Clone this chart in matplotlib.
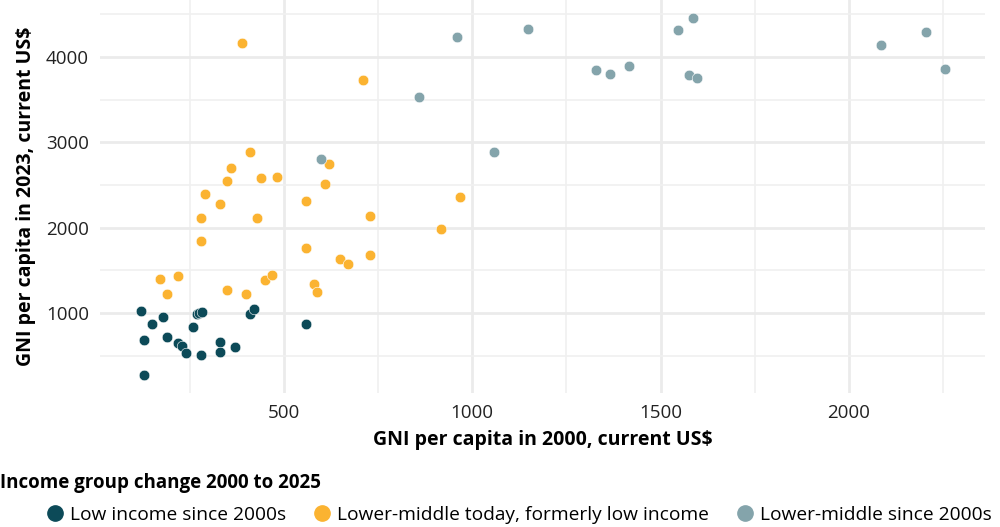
import matplotlib
matplotlib.use("Agg")
import matplotlib.pyplot as plt
from matplotlib.lines import Line2D
from matplotlib.ticker import MultipleLocator

plt.rcParams['font.family'] = ['Open Sans', 'DejaVu Sans']

# GNI per capita, 2000 (x) and 2023 (y), current US$
low_x = [120, 150, 180, 130, 190, 219, 230, 240, 130, 260, 270, 276, 282,
         280, 330, 330, 369, 410, 420, 559]
low_y = [1028, 872, 957, 681, 716, 645, 618, 528, 278, 837, 985, 1005, 1015,
         509, 657, 540, 602, 989, 1051, 872]

former_x = [410, 361, 350, 439, 481, 619, 610, 290, 330, 280, 430, 559, 728,
            967, 917, 280, 559, 649, 669, 728, 170, 220, 190, 350, 399, 449,
            469, 579, 589, 388, 710]
former_y = [2884, 2700, 2551, 2583, 2591, 2750, 2512, 2392, 2282, 2110, 2110,
            2313, 2141, 2364, 1981, 1841, 1762, 1630, 1578, 1680, 1399, 1431,
            1223, 1270, 1223, 1391, 1450, 1344, 1251, 4164, 3731]

lm_x = [599, 859, 959, 1147, 1058, 1328, 1366, 1415, 1546, 1585, 1576, 1597,
        2084, 2204, 2254]
lm_y = [2802, 3532, 4231, 4325, 2884, 3845, 3805, 3899, 4313, 4457, 3786,
        3754, 4137, 4297, 3856]

groups = ["Low income since 2000s",
          "Lower-middle today, formerly low income",
          "Lower-middle since 2000s"]
colors = ["#0c4a58", "#fbb331", "#84a4ab"]

fig = plt.figure(figsize=(10, 5.27), dpi=100)
ax = fig.add_axes([0.100, 0.255, 0.885, 0.745])

for xs, ys, c in [(low_x, low_y, colors[0]), (former_x, former_y, colors[1]),
                  (lm_x, lm_y, colors[2])]:
    ax.scatter(xs, ys, s=58, color=c, edgecolor="white", linewidth=0.4, zorder=3)

ax.set_xlim(12, 2361)
ax.set_ylim(69, 4666)
ax.xaxis.set_major_locator(MultipleLocator(500))
ax.xaxis.set_minor_locator(MultipleLocator(250))
ax.yaxis.set_major_locator(MultipleLocator(1000))
ax.yaxis.set_minor_locator(MultipleLocator(500))
ax.grid(which="major", color="#ebebeb", linewidth=2.0)
ax.grid(which="minor", color="#f0f0f0", linewidth=1.2)
ax.set_axisbelow(True)
for s in ax.spines.values():
    s.set_visible(False)
ax.tick_params(which="both", length=0, labelsize=13.5, colors="#222222", pad=8)

ax.set_xlabel("GNI per capita in 2000, current US$", fontsize=14,
              fontweight="bold", labelpad=6)
ax.set_ylabel("GNI per capita in 2023, current US$", fontsize=14,
              fontweight="bold", labelpad=7)

fig.text(0.0, 1 - 483 / 527, "Income group change 2000 to 2025", fontsize=13.5,
         fontweight="bold", va="center", ha="left")

handles = [Line2D([], [], marker="o", linestyle="none", markersize=11,
                  markerfacecolor=c, markeredgecolor=c) for c in colors]
fig.legend(handles, groups, loc="center left", bbox_to_anchor=(0.045, 1 - 515 / 527),
           ncol=3, frameon=False, fontsize=13.8, handletextpad=0.28,
           columnspacing=1.4, handlelength=1.0, borderaxespad=0, borderpad=0)

fig.savefig("out.png", dpi=100)
